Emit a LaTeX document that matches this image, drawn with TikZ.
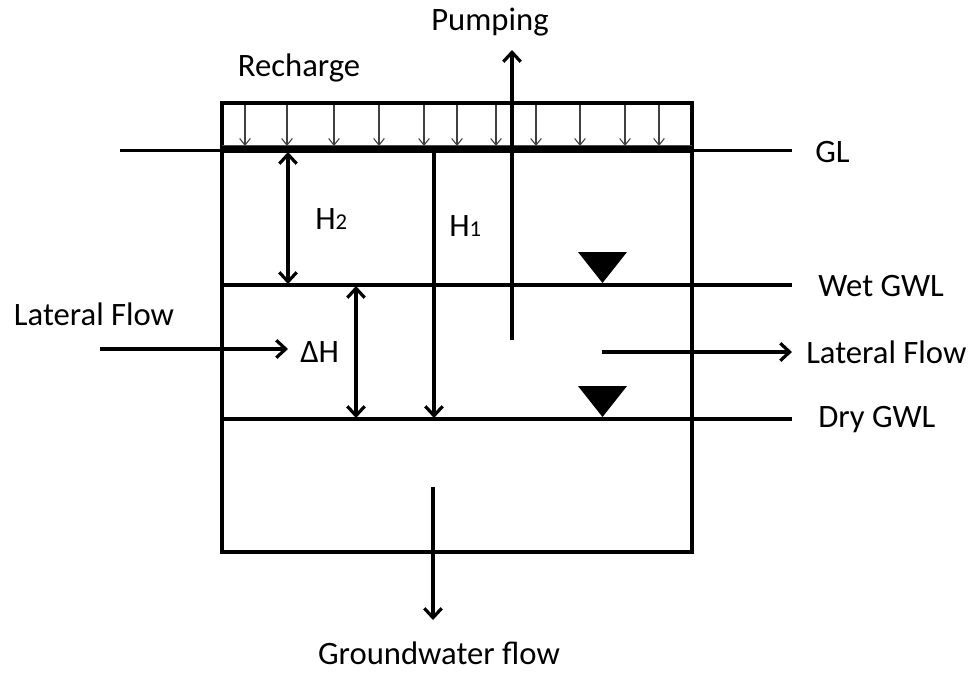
\documentclass[tikz,border=0pt]{standalone}
\usepackage{fontspec}
\setmainfont{Carlito}
\usetikzlibrary{arrows.meta}
\begin{document}
\begin{tikzpicture}[x=0.75pt,y=-0.75pt]
\useasboundingbox (0,0) rectangle (974,672);
\tikzset{
  wall/.style={line width=2.9pt},
  flow/.style={line width=2.6pt, -{Straight Barb[length=7pt,width=13pt,line width=2.4pt]}},
  dflow/.style={line width=2.6pt, {Straight Barb[length=7pt,width=13pt,line width=2.4pt]}-{Straight Barb[length=7pt,width=13pt,line width=2.4pt]}},
  rch/.style={line width=0.8pt, draw=black!75, -{Straight Barb[length=5pt,width=8pt,line width=0.8pt]}},
  lbl/.style={font=\fontsize{24.5}{28}\selectfont, inner sep=0pt},
  wt/.style={fill=black, draw=none}
}
\newcommand{\subdig}[1]{{\fontsize{17}{20}\selectfont #1}}
% coordinates
\coordinate (boxTL) at (222,103);
\coordinate (boxBR) at (692,552);
\coordinate (glL) at (120,150.5);
\coordinate (glR) at (792,150.5);
\coordinate (wetL) at (222,285);
\coordinate (wetR) at (792,285);
\coordinate (dryL) at (222,419);
\coordinate (dryR) at (792,419);
% box and levels
\draw[wall] (boxTL) rectangle (boxBR);
\draw[line width=0.8pt, draw=black!70] (222,145.5) -- (692,145.5);
\draw[wall] (glL) -- (glR);
\draw[line width=4.6pt] (222,149.5) -- (692,149.5);
\draw[wall] (wetL) -- (wetR);
\draw[wall] (dryL) -- (dryR);
% recharge arrows
\foreach \x [count=\i] in {245,287,334,379,424,457,496,536,580,625,659}{
  \coordinate (rt\i) at (\x,105);
  \coordinate (rb\i) at (\x,146);
  \draw[rch] (rt\i) -- (rb\i);
}
% labels
\node[lbl] (recharge) at (299,68) {Recharge};
\node[lbl] (pumping) at (490,22) {Pumping};
\node[lbl, anchor=west] (gl) at (815,152) {GL};
\node[lbl, anchor=west] (wet) at (818,286) {Wet GWL};
\node[lbl, anchor=west] (dry) at (818,420) {Dry GWL};
\node[lbl, anchor=west] (latR) at (806,352) {Lateral Flow};
\node[lbl] (latL) at (94,314) {Lateral Flow};
\node[lbl, anchor=west] (dH) at (300,352) {ΔH};
\node[lbl, anchor=west] (h2) at (315,219) {H\subdig{2}};
\node[lbl, anchor=west] (h1) at (449,226) {H\subdig{1}};
\node[lbl, anchor=base] (gwf) at (439,664) {Groundwater flow};
% arrows
\coordinate (pumpS) at (512,340);
\coordinate (pumpE) at (512,50);
\draw[flow] (pumpS) -- (pumpE);
\coordinate (latLS) at (100,349);
\coordinate (latLE) at (288,349);
\draw[flow] (latLS) -- (latLE);
\coordinate (latRS) at (602,352);
\coordinate (latRE) at (792,352);
\draw[flow] (latRS) -- (latRE);
\coordinate (h2T) at (288,152);
\coordinate (h2B) at (288,284);
\draw[dflow] (h2T) -- (h2B);
\coordinate (dhT) at (356,286);
\coordinate (dhB) at (356,418);
\draw[dflow] (dhT) -- (dhB);
\coordinate (h1T) at (434,150);
\coordinate (h1B) at (434,418);
\draw[flow] (h1T) -- (h1B);
\coordinate (gwS) at (433,487);
\coordinate (gwE) at (433,620);
\draw[flow] (gwS) -- (gwE);
% water table triangles
\fill[wt] (578,252) -- (627,252) -- (602.5,283) -- cycle;
\fill[wt] (578,386) -- (627,386) -- (602.5,417) -- cycle;
\end{tikzpicture}
\end{document}
